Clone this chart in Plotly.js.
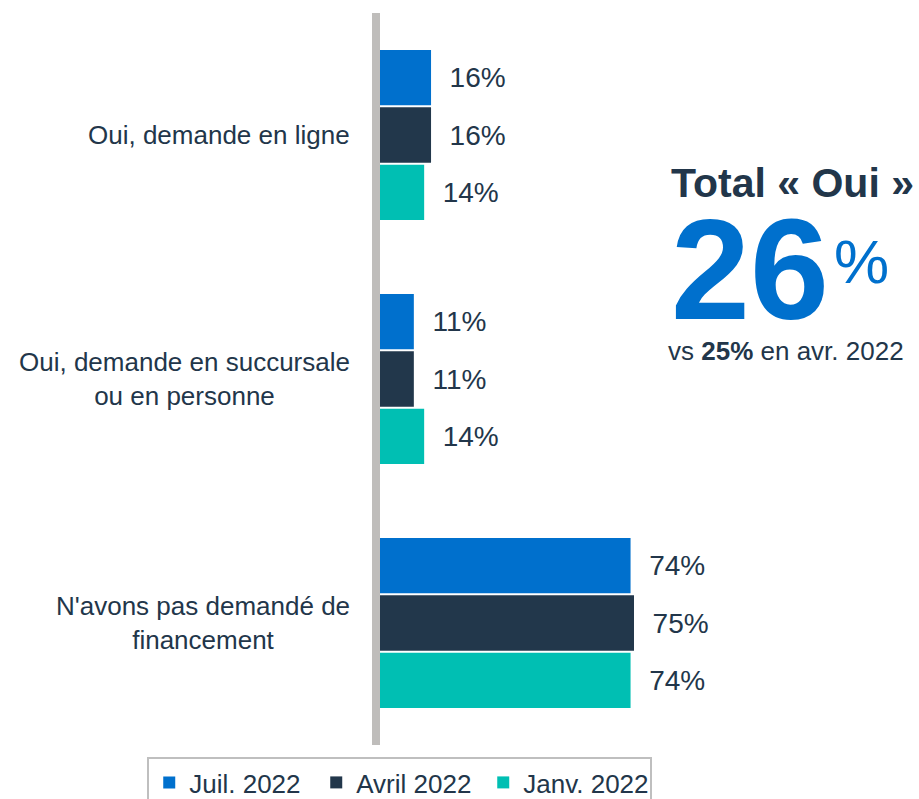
<!DOCTYPE html>
<html>
<head>
<meta charset="utf-8">
<script src="https://cdn.plot.ly/plotly-3.0.1.min.js"></script>
<style>
  html, body { margin: 0; padding: 0; background: #ffffff; }
  #chart { width: 919px; height: 799px; }
</style>
</head>
<body>
<div id="chart"></div>
<script>
var categories = [
  "Oui, demande en ligne",
  "Oui, demande en succursale<br>ou en personne",
  "N'avons pas demandé de<br>financement"
];
var seriesNames = ["Juil. 2022", "Avril 2022", "Janv. 2022"];
var juilValues = [16, 11, 74];
var avrilValues = [16, 11, 75];
var janvValues = [14, 14, 74];
var seriesColors = ["#0070cd", "#22374b", "#00bfb3"];

var textColor = "#22364a";
var fontFamily = "Liberation Sans, Arial, sans-serif";

function makeTrace(name, values, color) {
  return {
    type: "bar",
    orientation: "h",
    name: name,
    y: categories,
    x: values,
    marker: { color: color },
    text: values.map(function (v) { return "\u00a0\u00a0" + v + "%"; }),
    textposition: "outside",
    textfont: { family: fontFamily, size: 28, color: textColor },
    constraintext: "none",
    cliponaxis: false,
    hoverinfo: "skip"
  };
}

var traces = [
  makeTrace(seriesNames[0], juilValues, seriesColors[0]),
  makeTrace(seriesNames[1], avrilValues, seriesColors[1]),
  makeTrace(seriesNames[2], janvValues, seriesColors[2])
];

// category labels as annotations so multi-line labels are centred
var categoryLabels = categories.map(function (cat) {
  return {
    xref: "paper",
    yref: "y",
    x: -0.07,
    y: cat,
    xanchor: "right",
    yanchor: "middle",
    align: "center",
    showarrow: false,
    text: cat,
    font: { family: fontFamily, size: 26, color: textColor }
  };
});

var totalNotes = [
  {
    xref: "paper", yref: "paper", x: 1.210, y: 0.768,
    xanchor: "center", yanchor: "middle", showarrow: false,
    text: "<b>Total « Oui »</b>",
    font: { family: fontFamily, size: 41, color: textColor }
  },
  {
    xref: "paper", yref: "paper", x: 1.088, y: 0.650,
    xanchor: "center", yanchor: "middle", showarrow: false,
    text: "<b>26</b>",
    font: { family: fontFamily, size: 142, color: "#0070cd" }
  },
  {
    xref: "paper", yref: "paper", x: 1.410, y: 0.661,
    xanchor: "center", yanchor: "middle", showarrow: false,
    text: "%",
    font: { family: fontFamily, size: 62, color: "#0070cd" }
  },
  {
    xref: "paper", yref: "paper", x: 1.192, y: 0.538,
    xanchor: "center", yanchor: "middle", showarrow: false,
    text: "vs <b>25%</b> en avr. 2022",
    font: { family: fontFamily, size: 26, color: textColor }
  }
];

var layout = {
  width: 919,
  height: 799,
  margin: { l: 376, r: 199, t: 13, b: 54, autoexpand: false },
  paper_bgcolor: "#ffffff",
  plot_bgcolor: "#ffffff",
  barmode: "group",
  bargap: 0.295,
  bargroupgap: 0.035,
  font: { family: fontFamily, size: 26, color: textColor },
  xaxis: {
    range: [0, 100],
    visible: false,
    showgrid: false,
    zeroline: false,
    fixedrange: true
  },
  yaxis: {
    type: "category",
    range: [2.5, -0.5],
    showticklabels: false,
    showgrid: false,
    zeroline: false,
    showline: false,
    ticks: "",
    fixedrange: true
  },
  showlegend: true,
  legend: {
    orientation: "h",
    xref: "paper",
    yref: "paper",
    x: -0.665,
    xanchor: "left",
    y: -0.0164,
    yanchor: "top",
    bgcolor: "#ffffff",
    bordercolor: "#bfbfbf",
    borderwidth: 2,
    entrywidth: 122,
    font: { family: fontFamily, size: 26, color: textColor },
    traceorder: "normal"
  },
  shapes: [
    {
      type: "line",
      xref: "paper",
      yref: "paper",
      x0: 0, x1: 0,
      y0: 0, y1: 1,
      layer: "above",
      line: { color: "#bfbdbb", width: 8 }
    }
  ],
  annotations: categoryLabels.concat(totalNotes)
};

Plotly.newPlot("chart", traces, layout, { displayModeBar: false, staticPlot: true });
</script>
</body>
</html>
